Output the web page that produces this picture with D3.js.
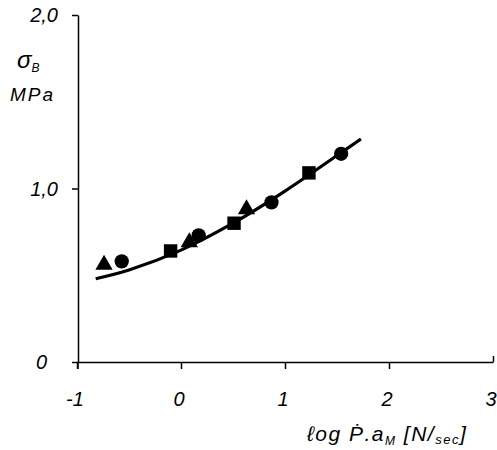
<!DOCTYPE html>
<html lang="en">
<head>
<meta charset="UTF-8">
<title>σB vs log P·aM</title>
<script src="https://d3js.org/d3.v7.min.js"></script>
<style>
  body { margin: 0; background: #fff; }
  text { font-family: "Liberation Sans", Arial, sans-serif; font-style: italic; fill: #000; }
  .axis path, .axis line { stroke: #000; stroke-width: 1.5; }
</style>
</head>
<body>
<svg width="497" height="450"></svg>
<script>
// tick labels
const xTicks = [-1, 0, 1, 2, 3];
const yTicks = [0, 1, 2];
const yTickLabels = ["0", "1,0", "2,0"];

// measured points: log(P·aM), sigma_B (MPa), marker shape
const ptX = [-0.74, -0.57, -0.10, 0.08, 0.17, 0.51, 0.63, 0.87, 1.23, 1.54];
const ptY = [0.56, 0.58, 0.64, 0.69, 0.73, 0.80, 0.88, 0.92, 1.09, 1.20];
const ptShape = ["triangle", "circle", "square", "triangle", "circle", "square", "triangle", "circle", "square", "circle"];

// fitted curve
const curveX = [-0.82, -0.5, 0.0, 0.5, 1.0, 1.5, 1.73];
const curveY = [0.48, 0.53, 0.645, 0.80, 0.985, 1.19, 1.285];

const svg = d3.select("svg");
const x = d3.scaleLinear().domain([-1, 3]).range([77, 493]);
const y = d3.scaleLinear().domain([0, 2]).range([362, 15]);

// x axis
const gx = svg.append("g").attr("class", "axis")
  .attr("transform", `translate(0,${y(0)})`)
  .call(d3.axisBottom(x).tickValues(xTicks).tickSize(7).tickSizeOuter(0).tickFormat(""));
gx.selectAll(".tick").filter(d => d === 3).select("line").attr("y2", -6);

// y axis
svg.append("g").attr("class", "axis")
  .attr("transform", `translate(${x(-1) + 1},0)`)
  .call(d3.axisLeft(y).tickValues(yTicks).tickSize(6).tickSizeOuter(0).tickFormat(""));
svg.append("line").attr("x1", x(-1) + 1).attr("x2", x(-1) + 1)
  .attr("y1", y(0)).attr("y2", y(0) + 7).attr("stroke", "#000").attr("stroke-width", 1.5);

// tick labels
svg.selectAll(".xl").data(xTicks).enter().append("text")
  .attr("x", d => x(d) - 2).attr("y", 406)
  .attr("text-anchor", "middle").style("font-size", "20px")
  .text(d => d);
svg.selectAll(".yl").data(yTicks).enter().append("text")
  .attr("x", (d, i) => i === 0 ? 47 : 58).attr("y", d => y(d) + 7)
  .attr("text-anchor", "end").style("font-size", "20px")
  .text((d, i) => yTickLabels[i]);

// axis titles
const yt = svg.append("text").attr("x", 17).attr("y", 68).style("font-size", "24px");
yt.append("tspan").text("σ");
yt.append("tspan").attr("dy", 4).style("font-size", "12px").text("B");
svg.append("text").attr("x", 10).attr("y", 101).style("font-size", "19px")
  .style("letter-spacing", "2px").text("MPa");

const xt = svg.append("text").attr("x", 307).attr("y", 441)
  .style("font-size", "21px").style("letter-spacing", "1.5px");
xt.append("tspan").text("ℓog Ṗ.a");
xt.append("tspan").attr("dy", 4).style("font-size", "12px").text("M");
xt.append("tspan").attr("dy", -4).text(" [N/");
xt.append("tspan").attr("dy", 3).style("font-size", "13px").text("sec");
xt.append("tspan").attr("dy", -3).text("]");

// curve
const line = d3.line().x(d => x(d[0])).y(d => y(d[1])).curve(d3.curveCatmullRom);
svg.append("path").datum(d3.zip(curveX, curveY))
  .attr("d", line).attr("fill", "none").attr("stroke", "#000").attr("stroke-width", 3.2);

// markers
const symType = { circle: d3.symbolCircle, square: d3.symbolSquare, triangle: d3.symbolTriangle };
const symSize = { circle: 160, square: 180, triangle: 130 };
svg.selectAll(".pt").data(d3.range(ptX.length)).enter().append("path")
  .attr("transform", i => `translate(${x(ptX[i])},${y(ptY[i])})`)
  .attr("d", i => d3.symbol().type(symType[ptShape[i]]).size(symSize[ptShape[i]])())
  .attr("fill", "#000");
</script>
</body>
</html>
